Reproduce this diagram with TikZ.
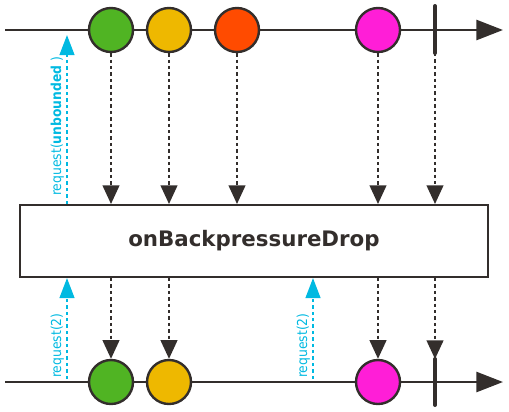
\documentclass[tikz,border=0pt]{standalone}
\usepackage{fontspec}
\setsansfont{DejaVu Sans}
\newfontfamily\reqfont{DejaVu Sans Condensed}
\usetikzlibrary{arrows.meta,calc}
\definecolor{rxdark}{RGB}{51,46,44}
\definecolor{rxgreen}{RGB}{80,180,35}
\definecolor{rxyellow}{RGB}{238,184,0}
\definecolor{rxred}{RGB}{255,75,0}
\definecolor{rxpink}{RGB}{255,30,215}
\definecolor{rxcyan}{RGB}{0,185,225}
\tikzset{
  timeline/.style={draw=rxdark,line width=2pt,-{Triangle[length=20pt,width=15pt]}},     % time axis
  marble/.style={circle,draw=rxdark,line width=1.8pt,minimum size=33pt,inner sep=0pt},  % emitted item
  stopbar/.style={draw=rxdark,line width=3pt,line cap=round},                          % completion
  flow/.style={draw=rxdark,line width=1.6pt,dash pattern=on 2.6pt off 2.2pt,
    -{Triangle[length=14pt,width=12.5pt]}},
  req/.style={draw=rxcyan,line width=1.6pt,dash pattern=on 2.6pt off 2.2pt,
    -{Triangle[length=15pt,width=11pt]}},
  reqlabel/.style={rotate=90,anchor=south,text=rxcyan,font=\reqfont\fontsize{10.3}{12}\selectfont,inner sep=1.5pt},
  opbox/.style={draw=rxdark,line width=1.5pt,fill=white,minimum width=351pt,minimum height=54pt,
    font=\sffamily\bfseries\fontsize{16}{18}\selectfont,text=rxdark},
}

\begin{document}
\begin{tikzpicture}[x=0.75pt,y=-0.75pt]
  \useasboundingbox (0,0) rectangle (509,411);
  % time axes
  \coordinate (tstart) at (5,30);   \coordinate (tend) at (503,30);
  \coordinate (bstart) at (5,382);  \coordinate (bend) at (503,382);
  \draw[timeline] (tstart) -- (tend);
  \draw[timeline] (bstart) -- (bend);
  % operator
  \node[opbox] (op) at (254,241) {onBackpressureDrop};
  % source items
  \foreach \n/\x/\c in {t1/111/rxgreen,t2/169/rxyellow,t3/237/rxred,t4/378/rxpink}
    \node[marble,fill=\c] (\n) at (\x,30) {};
  \coordinate (ttop) at (435,6); \coordinate (tbot) at (435,53);
  \draw[stopbar] (ttop) -- (tbot);
  \foreach \n in {t1,t2,t3,t4,tbot}
    \draw[flow] (\n.south) -- (\n.south |- op.north);
  % result items
  \foreach \n/\x/\c in {b1/111/rxgreen,b2/169/rxyellow,b3/378/rxpink}
    \node[marble,fill=\c] (\n) at (\x,382) {};
  \coordinate (btop) at (435,359); \coordinate (bbot) at (435,405);
  \draw[stopbar] (btop) -- (bbot);
  \foreach \n in {b1,b2,b3,btop}
    \draw[flow] (\n.north |- op.south) -- (\n.north);
  % requests
  \coordinate (r1) at (67,35); \coordinate (r2) at (67,379); \coordinate (r3) at (313,379);
  \draw[req] (r1 |- op.north) -- (r1)
    node[reqlabel,pos=0.46] (l1) {request(\textbf{unbounded} )};
  \draw[req] (r2) -- (r2 |- op.south) node[reqlabel,pos=0.33] (l2) {request(2)};
  \draw[req] (r3) -- (r3 |- op.south) node[reqlabel,pos=0.33] (l3) {request(2)};
\end{tikzpicture}
\end{document}
